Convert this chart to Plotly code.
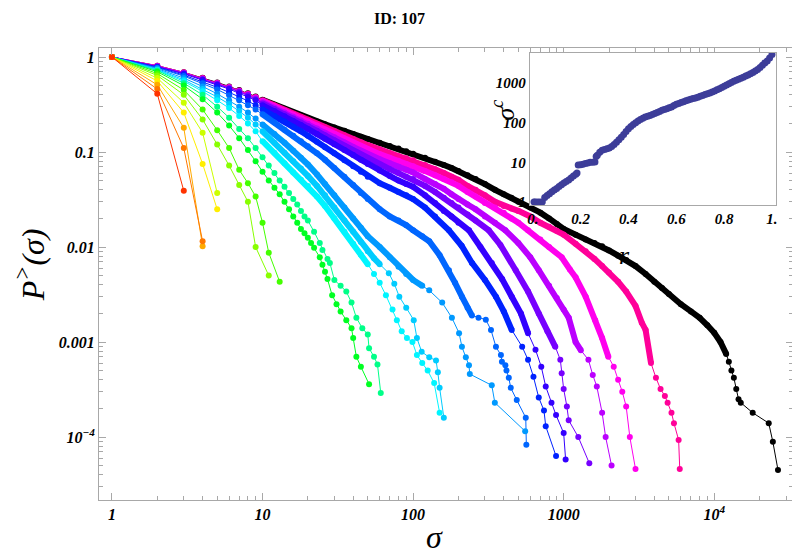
import plotly.graph_objects as go

# P>(sigma) curves (one sigma/P pair per curve)
sig_00 = [1, 2, 3]
p_00 = [1, 0.41, 0.039]
sig_01 = [1, 2, 3, 4]
p_01 = [1, 0.46, 0.11, 0.0115]
sig_02 = [1, 2, 3, 4]
p_02 = [1, 0.51, 0.18, 0.0102]
sig_03 = [1, 2, 3, 4, 5]
p_03 = [1, 0.56, 0.26, 0.075, 0.025]
sig_04 = [1, 2, 3, 4, 5]
p_04 = [1, 0.60, 0.33, 0.16, 0.037]
sig_05 = [1, 2, 3, 4, 5, 6, 7, 8, 9, 11]
p_05 = [1, 0.64, 0.40, 0.22, 0.12, 0.072, 0.045, 0.030, 0.010, 0.005]
sig_06 = [1, 2, 3, 4, 5, 6, 7, 8, 9, 10, 11, 13]
p_06 = [1, 0.67, 0.45, 0.28, 0.17, 0.11, 0.065, 0.047, 0.034, 0.018, 0.0087, 0.0043]
sig_07 = [1, 2, 3, 4, 5, 6, 7, 8, 9, 10, 11, 12, 13, 14, 15, 16, 17, 18, 19, 20,
          21, 22, 24, 25, 26, 27, 29, 31, 33, 36, 39, 40, 42, 45, 51]
p_07 = [1, 0.70, 0.50, 0.36, 0.26, 0.19, 0.14, 0.105, 0.08, 0.062, 0.05, 0.042, 0.036, 0.03,
        0.025, 0.021, 0.018, 0.0155, 0.014, 0.0125,
        0.011, 0.0098, 0.0078, 0.0065, 0.0055, 0.0046, 0.0031, 0.0025, 0.0021, 0.0017,
        0.0014, 0.0011, 0.0007, 0.00055, 0.00036]
sig_08 = [1, 2, 3, 4, 5, 6, 7, 8, 9, 10, 11, 12, 13, 14, 15, 16, 17, 18, 19, 20,
          22, 24, 25, 27, 28, 30, 33, 36, 39, 42, 46, 50, 51, 55, 58, 61]
p_08 = [1, 0.72, 0.53, 0.40, 0.30, 0.23, 0.175, 0.14, 0.11, 0.088, 0.072, 0.06, 0.05, 0.043,
        0.037, 0.032, 0.028, 0.024, 0.021, 0.019,
        0.0145, 0.011, 0.0093, 0.0075, 0.0068, 0.0045, 0.0039, 0.0034, 0.0026, 0.0018,
        0.0014, 0.0012, 0.00086, 0.0007, 0.00058, 0.00029]
sig_09 = [1, 2, 3, 4, 5, 6, 7, 8, 9, 10, 12, 14, 16, 18, 20, 23, 26, 30, 35, 40, 45, 50,
          55, 60, 66, 73, 78, 84, 91, 99, 106, 115, 125, 138, 150]
p_09 = [1, 0.73, 0.555, 0.435, 0.35, 0.29, 0.24, 0.2, 0.165, 0.13,
        0.098, 0.076, 0.061, 0.051, 0.044, 0.034, 0.027, 0.020, 0.0145, 0.0108, 0.0083, 0.0066,
        0.0052, 0.0042, 0.0031, 0.0022, 0.0017, 0.0013, 0.0011, 0.001, 0.00073, 0.0006,
        0.0005, 0.00037, 0.00018]
sig_10 = [1, 2, 3, 4, 5, 6, 7, 8, 9, 10, 12, 14, 16, 18, 20, 23, 26, 30, 35, 40, 45, 50,
          55, 60, 69, 75, 81, 90, 101, 106, 114, 128, 142, 146, 150, 160]
p_10 = [1, 0.74, 0.575, 0.46, 0.38, 0.32, 0.27, 0.23, 0.195, 0.165,
        0.125, 0.098, 0.08, 0.067, 0.056, 0.044, 0.035, 0.026, 0.019, 0.0145, 0.0113, 0.009,
        0.0076, 0.0066, 0.0053, 0.0041, 0.003, 0.0023, 0.0017, 0.0011, 0.00079, 0.00069,
        0.00064, 0.00048, 0.00033, 0.00016]
sig_11 = [1, 2, 3, 4, 5, 6, 7, 8, 9, 10, 12, 14, 16, 18, 20, 23, 26, 30, 35, 40, 45, 50,
          60, 70, 80, 90, 100, 115, 128, 156, 181, 202, 211, 224, 235, 238, 333, 349, 555]
p_11 = [1, 0.755, 0.60, 0.49, 0.41, 0.35, 0.30, 0.26, 0.225, 0.195,
        0.155, 0.125, 0.103, 0.087, 0.074, 0.058, 0.046, 0.035, 0.026, 0.02, 0.016, 0.013,
        0.010, 0.0078, 0.0062, 0.0052, 0.0045, 0.0039, 0.0035, 0.0026, 0.0018, 0.00124,
        0.00089, 0.00069, 0.00057, 0.00046, 0.00035, 0.00023, 0.000115]
sig_12 = [1, 2, 3, 4, 5, 6, 7, 8, 9, 10, 12, 14, 16, 18, 20, 23, 26, 30, 35, 40, 45, 50,
          60, 70, 80, 90, 100, 115, 128, 150, 173, 190, 211, 230, 246, 272, 304,
          329, 355, 383, 389, 410, 417, 432, 445, 488, 560, 565]
p_12 = [1, 0.77, 0.63, 0.53, 0.455, 0.395, 0.35, 0.31, 0.28, 0.25,
        0.205, 0.172, 0.148, 0.13, 0.115, 0.097, 0.083, 0.068, 0.055, 0.045, 0.037, 0.032,
        0.025, 0.021, 0.019, 0.017, 0.015, 0.013, 0.0115, 0.0082, 0.0057, 0.0042,
        0.003, 0.0023, 0.0019, 0.0018, 0.00172, 0.00134, 0.00089, 0.00073, 0.00062, 0.00057,
        0.0005, 0.00042, 0.00033, 0.000245, 0.00016, 0.000083]
sig_13 = [1, 2, 3, 4, 5, 6, 7, 8, 9, 10, 12, 14, 16, 18, 20, 23, 26, 30, 35, 40, 45, 50,
          60, 70, 80, 90, 100, 120, 140, 173, 210, 246, 300, 355, 400, 452, 530,
          580, 630, 683, 740, 760, 890]
p_13 = [1, 0.78, 0.645, 0.55, 0.48, 0.425, 0.38, 0.345, 0.31, 0.28,
        0.24, 0.21, 0.185, 0.165, 0.148, 0.128, 0.112, 0.097, 0.082, 0.071, 0.062, 0.055,
        0.047, 0.042, 0.038, 0.035, 0.032, 0.026, 0.021, 0.015, 0.0103, 0.0068,
        0.0045, 0.003, 0.0021, 0.00134, 0.00089, 0.00065, 0.00043, 0.00026, 0.00019,
        0.00013, 0.000063]
sig_14 = [1, 2, 3, 4, 5, 6, 7, 8, 9, 10, 12, 14, 16, 18, 20, 23, 26, 30, 35, 40, 45, 50,
          60, 70, 80, 90, 100, 120, 140, 160, 180, 200, 235, 280, 333, 390, 452,
          520, 580, 650, 710, 760, 830, 890, 1000, 1030]
p_14 = [1, 0.79, 0.665, 0.575, 0.51, 0.46, 0.415, 0.38, 0.35, 0.31,
        0.27, 0.238, 0.212, 0.192, 0.175, 0.155, 0.138, 0.121, 0.105, 0.093, 0.083, 0.075,
        0.064, 0.056, 0.050, 0.046, 0.043, 0.035, 0.029, 0.024, 0.021, 0.018,
        0.015, 0.010, 0.0068, 0.0046, 0.003, 0.002, 0.00124, 0.00083, 0.00055, 0.00034,
        0.00023, 0.00017, 0.00011, 0.000058]
sig_15 = [1, 2, 3, 4, 5, 6, 7, 8, 9, 10, 12, 14, 16, 18, 20, 23, 26, 30, 35, 40, 45, 50,
          60, 70, 80, 90, 100, 120, 140, 160, 180, 200, 230, 260, 318, 380, 480,
          580, 683, 780, 880, 950, 970, 1000, 1050, 1080, 1250, 1480]
p_15 = [1, 0.795, 0.675, 0.585, 0.52, 0.47, 0.43, 0.395, 0.36, 0.325,
        0.283, 0.25, 0.225, 0.205, 0.188, 0.167, 0.150, 0.133, 0.116, 0.103, 0.093, 0.085,
        0.074, 0.066, 0.060, 0.055, 0.052, 0.044, 0.038, 0.033, 0.029, 0.026,
        0.022, 0.019, 0.015, 0.0105, 0.0057, 0.0034, 0.002, 0.0013, 0.00089, 0.00065,
        0.00047, 0.00032, 0.00021, 0.00015, 0.0001, 0.000053]
sig_16 = [1, 2, 3, 4, 5, 6, 7, 8, 9, 10, 12, 14, 16, 18, 20, 23, 26, 30, 35, 40, 45, 50,
          60, 70, 80, 90, 100, 120, 140, 160, 180, 200, 230, 260, 300, 350, 410,
          500, 600, 683, 800, 900, 1000, 1080, 1200, 1300, 1460, 1560, 1660, 1800, 1900, 2080]
p_16 = [1, 0.80, 0.68, 0.59, 0.525, 0.475, 0.435, 0.40, 0.368, 0.335,
        0.292, 0.26, 0.235, 0.215, 0.198, 0.177, 0.16, 0.143, 0.126, 0.113, 0.103, 0.094,
        0.084, 0.076, 0.07, 0.065, 0.061, 0.052, 0.046, 0.041, 0.036, 0.032,
        0.028, 0.025, 0.021, 0.018, 0.015, 0.011, 0.0078, 0.0057, 0.0039, 0.0029,
        0.0022, 0.0018, 0.001, 0.00082, 0.00065, 0.00045, 0.00034, 0.00018, 0.0001, 0.00005]
sig_17 = [1, 2, 3, 4, 5, 6, 7, 8, 9, 10, 12, 14, 16, 18, 20, 23, 26, 30, 35, 40, 45, 50,
          60, 70, 80, 90, 100, 120, 140, 160, 180, 200, 230, 260, 300, 350, 400, 450, 500,
          580, 700, 800, 970, 1100, 1200, 1400, 1620, 1800, 1980, 2150, 2300, 2450, 2600,
          2750, 3000]
p_17 = [1, 0.805, 0.685, 0.595, 0.53, 0.48, 0.44, 0.405, 0.375, 0.345,
        0.303, 0.272, 0.247, 0.227, 0.21, 0.19, 0.173, 0.156, 0.139, 0.126, 0.115, 0.106,
        0.095, 0.087, 0.081, 0.075, 0.071, 0.063, 0.057, 0.052, 0.048, 0.044,
        0.038, 0.034, 0.029, 0.026, 0.023, 0.020, 0.018,
        0.015, 0.012, 0.010, 0.0078, 0.0058, 0.0048, 0.003, 0.0017, 0.0011, 0.0007,
        0.00055, 0.0004, 0.0003, 0.00021, 0.0001, 0.000046]
sig_18 = [1, 2, 3, 4, 5, 6, 7, 8, 9, 10, 12, 14, 16, 18, 20, 23, 26, 30, 35, 40, 45, 50,
          60, 70, 80, 90, 100, 120, 140, 160, 180, 200, 230, 260, 300, 350, 400, 450, 500,
          600, 700, 800, 900, 1000, 1200, 1400, 1600, 1800, 2000, 2300, 2600, 3000, 3300,
          3500, 3800, 4100, 4400, 4700, 4900, 5200, 5400, 5800, 5900]
p_18 = [1, 0.81, 0.69, 0.60, 0.535, 0.485, 0.445, 0.41, 0.38, 0.35,
        0.308, 0.277, 0.252, 0.233, 0.218, 0.198, 0.182, 0.166, 0.150, 0.137, 0.127, 0.118,
        0.107, 0.097, 0.090, 0.086, 0.082, 0.073, 0.066, 0.060, 0.055, 0.051,
        0.044, 0.040, 0.035, 0.030, 0.027, 0.0255, 0.024,
        0.021, 0.018, 0.0163, 0.0148, 0.0135, 0.0108, 0.009, 0.0075, 0.0063, 0.0054,
        0.0043, 0.0034, 0.0024, 0.0016, 0.00134, 0.0006, 0.00042, 0.00032, 0.00027,
        0.00023, 0.00018, 0.00014, 0.000093, 0.000046]
sig_black = [1, 2, 3, 4, 5, 6, 7, 8, 9, 10, 12, 14, 16, 18, 20, 23, 26, 30, 35, 40, 45, 50,
             60, 70, 80, 90, 100, 120, 140, 160, 180, 200, 230, 260, 300, 350, 400, 450, 500,
             600, 700, 800, 900, 1000, 1200, 1400, 1600, 1800, 2000, 2300, 2600, 3000, 3500,
             4000, 4500, 5000, 6000, 7000, 8000, 9000, 10000, 11000, 12000, 12500, 13000,
             13500, 14000, 14500, 15000, 18000, 23000, 24500, 26500]
p_black = [1, 0.81, 0.69, 0.605, 0.54, 0.49, 0.45, 0.415, 0.385, 0.355,
           0.315, 0.285, 0.26, 0.242, 0.228, 0.21, 0.196, 0.181, 0.167, 0.155, 0.145, 0.137,
           0.125, 0.116, 0.109, 0.102, 0.096, 0.087, 0.079, 0.073, 0.068, 0.063,
           0.057, 0.052, 0.046, 0.040, 0.036, 0.033, 0.030,
           0.026, 0.023, 0.020, 0.0175, 0.0155, 0.0135, 0.012, 0.011, 0.0102, 0.0092,
           0.0081, 0.0073, 0.0063, 0.0052, 0.0043, 0.0037, 0.0032, 0.0025, 0.0021, 0.0018,
           0.0015, 0.00125, 0.0010, 0.00075, 0.00062, 0.0005, 0.00042, 0.00032, 0.00025,
           0.00023, 0.00018, 0.00014, 0.000089, 0.000045]

# inset: sigma^c against r
r_inset = [0.005, 0.01, 0.02, 0.03, 0.04, 0.05, 0.06, 0.07, 0.08, 0.09, 0.10, 0.11, 0.12,
           0.13, 0.14, 0.15, 0.16, 0.17, 0.18, 0.185, 0.19, 0.20, 0.21, 0.22, 0.23, 0.24,
           0.25, 0.26, 0.265, 0.27, 0.28, 0.29, 0.30, 0.31, 0.32, 0.33, 0.34, 0.35, 0.36,
           0.37, 0.38, 0.39, 0.40, 0.41, 0.42, 0.43, 0.44, 0.45, 0.46, 0.47, 0.48, 0.49,
           0.50, 0.51, 0.52, 0.53, 0.54, 0.55, 0.56, 0.57, 0.58, 0.59, 0.60, 0.61, 0.62,
           0.63, 0.64, 0.65, 0.66, 0.67, 0.68, 0.69, 0.70, 0.71, 0.72, 0.73, 0.74, 0.75,
           0.76, 0.77, 0.78, 0.79, 0.80, 0.81, 0.82, 0.83, 0.84, 0.85, 0.86, 0.87, 0.88,
           0.89, 0.90, 0.91, 0.92, 0.93, 0.94, 0.95, 0.96, 0.97, 0.98, 0.99, 1.00]
sc_inset = [1, 1, 1, 1, 1, 1.3, 1.45, 1.6, 1.8, 2.0, 2.2, 2.45, 2.7,
            3.0, 3.3, 3.6, 4.0, 4.5, 5.0, 5.4, 8.5, 8.7, 9.0, 9.3, 9.6, 10,
            10, 10.2, 14, 15, 18, 20, 21, 22, 23, 25, 28, 32, 37,
            43, 50, 60, 70, 80, 90, 100, 110, 120, 130, 138, 145, 152,
            160, 170, 180, 192, 205, 215, 225, 238, 250, 270, 290, 305, 320,
            338, 355, 372, 390, 405, 420, 440, 460, 485, 510, 535, 560, 595,
            630, 675, 720, 775, 830, 895, 960, 1030, 1100, 1170, 1250, 1320, 1400,
            1500, 1600, 1720, 1850, 2000, 2200, 2450, 2800, 3200, 3600, 4300, 5200]

curves = [(sig_00, p_00), (sig_01, p_01), (sig_02, p_02), (sig_03, p_03), (sig_04, p_04),
          (sig_05, p_05), (sig_06, p_06), (sig_07, p_07), (sig_08, p_08), (sig_09, p_09),
          (sig_10, p_10), (sig_11, p_11), (sig_12, p_12), (sig_13, p_13), (sig_14, p_14),
          (sig_15, p_15), (sig_16, p_16), (sig_17, p_17), (sig_18, p_18)]
colors = ["#ff3300", "#ff7700", "#ffaa00", "#ffee00", "#ccff00", "#88ff00", "#44ff00",
          "#00ff22", "#00ff88", "#00f5ff", "#00ccff", "#0099ff", "#0066ff", "#0022ff",
          "#3300ff", "#7700ff", "#bb00ff", "#ff00ee", "#ff0099"]
# sigma up to which the markers overlap into a solid band
dense_to = [None, None, None, None, None, None, None, None, None, 50, 60, 115, 246, 452,
            580, 880, 1300, 1980, 3800]

FRAME = "#a8a8a8"
SERIF = "Liberation Serif"
tickfont = dict(family=SERIF, size=16, color="black", weight="bold", style="italic")


def add_curve(fig, sig, p, color, dense):
    if dense:
        xs = [s for s in sig if 10 <= s <= dense]
        ys = [v for s, v in zip(sig, p) if 10 <= s <= dense]
        fig.add_trace(go.Scatter(x=xs, y=ys, mode="lines",
                                 line=dict(color=color, width=6), hoverinfo="skip"))
    fig.add_trace(go.Scatter(x=sig, y=p, mode="lines+markers",
                             line=dict(color=color, width=1),
                             marker=dict(color=color, size=6)))


fig = go.Figure()
add_curve(fig, sig_black, p_black, "black", 12000)
for i in range(len(curves) - 1, -1, -1):
    add_curve(fig, curves[i][0], curves[i][1], colors[i], dense_to[i])

fig.add_trace(go.Scatter(x=r_inset, y=sc_inset, mode="markers", xaxis="x2", yaxis="y2",
                         marker=dict(color="#3d3d99", size=7)))
# empty trace so the minor-tick axes get drawn
fig.add_trace(go.Scatter(x=[], y=[], xaxis="x3", yaxis="y3"))

minor_x = [m * 10 ** k for k in range(0, 5) for m in range(2, 10)]
minor_y = [m * 10.0 ** k for k in range(-5, 0) for m in range(2, 10)]

XR = [-0.086, 4.523]
YR = [-4.663, 0.095]

axis_common = dict(showline=True, linecolor=FRAME, linewidth=1, mirror="allticks",
                   ticks="inside", ticklen=7, tickcolor=FRAME, showgrid=False,
                   zeroline=False, tickfont=tickfont)
minor_common = dict(type="log", showline=False, mirror="ticks", ticks="inside", ticklen=4,
                    tickcolor=FRAME, showgrid=False, zeroline=False,
                    showticklabels=False)

# page body adds 8px on the left/top, so the figure is 8px smaller
fig.update_layout(
    width=792, height=548,
    margin=dict(l=91, r=5, t=40, b=56),
    paper_bgcolor="white", plot_bgcolor="white",
    showlegend=False,
    xaxis=dict(type="log", range=XR, domain=[0, 1],
               tickvals=[1, 10, 100, 1000, 10000],
               ticktext=["1", "10", "100", "1000", "10<sup>4</sup>"],
               **axis_common),
    yaxis=dict(type="log", range=YR, domain=[0, 1],
               tickvals=[1, 0.1, 0.01, 0.001, 0.0001],
               ticktext=["1", "0.1", "0.01", "0.001", "10<sup>\u22124</sup>"],
               **axis_common),
    xaxis3=dict(overlaying="x", anchor="y3", range=XR, tickvals=minor_x, **minor_common),
    yaxis3=dict(overlaying="y", anchor="x3", range=YR, tickvals=minor_y, **minor_common),
    xaxis2=dict(domain=[0.6207, 0.9756], anchor="y2", range=[-0.0125, 1.017],
                showline=True, linecolor=FRAME, mirror=True, ticks="", showgrid=False,
                zeroline=False, tickvals=[0, 0.2, 0.4, 0.6, 0.8, 1.0],
                ticktext=["0.", "0.2", "0.4", "0.6", "0.8", "1."],
                tickfont=dict(tickfont, size=15)),
    yaxis2=dict(domain=[0.6527, 0.9889], anchor="x2", type="log", range=[-0.076, 3.756],
                showline=True, linecolor=FRAME, mirror=True, ticks="", showgrid=False,
                zeroline=False, tickvals=[1, 10, 100, 1000],
                ticktext=["1", "10", "100", "1000"],
                tickfont=dict(tickfont, size=15)),
)

label_font = dict(family=SERIF, size=32, color="black", style="italic")
center = dict(xref="paper", yref="paper", showarrow=False, xanchor="center", yanchor="middle")
fig.add_annotation(text="\u03c3", x=0.4828, y=-0.082, font=label_font, **center)
fig.add_annotation(text="P<sup>></sup>(\u03c3)", x=-0.099, y=0.52, textangle=-90,
                   font=label_font, **center)
fig.add_annotation(text="\u03c3<sup>c</sup>", x=0.583, y=0.863, textangle=-90,
                   font=dict(label_font, size=26), **center)
fig.add_annotation(text="r", x=0.757, y=0.542, font=dict(label_font, size=26), **center)
fig.add_annotation(text="ID: 107", x=0.4325, y=1.066,
                   font=dict(family=SERIF, size=16, color="black", weight="bold"), **center)

fig.write_html("out.html")
